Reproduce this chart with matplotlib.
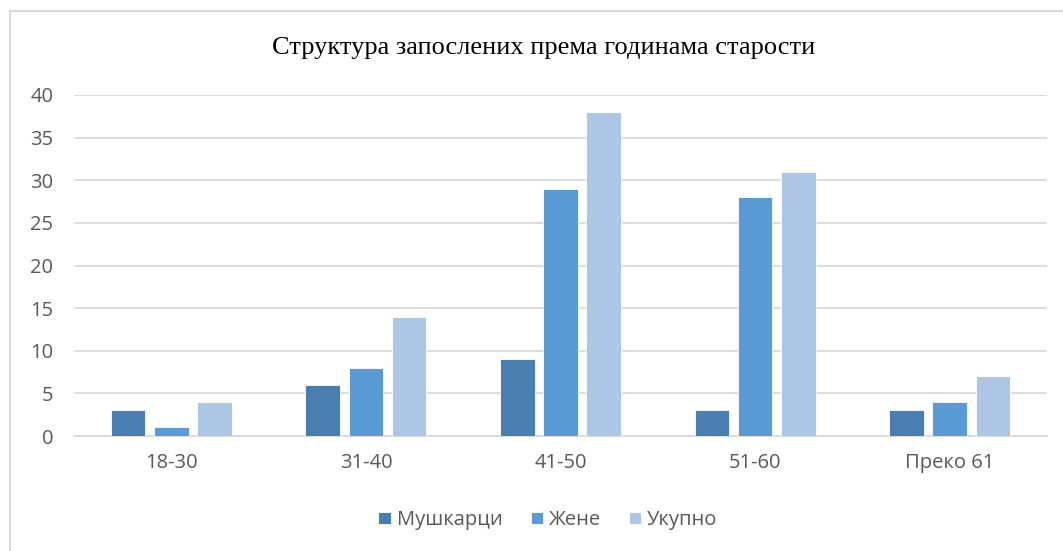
"""Bar chart: employees by age group."""

import matplotlib

matplotlib.use("Agg")
import matplotlib.pyplot as plt
from matplotlib.patches import Rectangle
import numpy as np

categories = ["18-30", "31-40", "41-50", "51-60", "Преко 61"]
men = [3, 6, 9, 3, 3]
women = [1, 8, 29, 28, 4]
total = [4, 14, 38, 31, 7]
series_names = ["Мушкарци", "Жене", "Укупно"]
y_ticks = [0, 5, 10, 15, 20, 25, 30, 35, 40]

COLORS = ("#4a7eb0", "#5b9bd5", "#adc6e6")
TEXT_GREY = "#595959"
GRID_GREY = "#d9d9d9"

W, H = 1063, 551
fig = plt.figure(figsize=(W / 100, H / 100), dpi=100)

# chart-area frame, left and top edges visible only
fig.patches.append(
    Rectangle((10 / W, -0.1), 1.2, 1 - 11 / H + 0.1, transform=fig.transFigure,
              fill=False, edgecolor="#d9d9d9", linewidth=1.5)
)

ax = fig.add_axes([74 / W, 1 - 436 / H, 973 / W, 341 / H])
x = np.arange(len(categories))
width = 0.178
pitch = 0.222
for i, (vals, name) in enumerate(zip((men, women, total), series_names)):
    ax.bar(x + (i - 1) * pitch, vals, width, color=COLORS[i], label=name,
           edgecolor="white", linewidth=0.6, zorder=3)

ax.set_xlim(-0.5, len(categories) - 0.5)
ax.set_ylim(0, 40)
ax.set_yticks(y_ticks)
ax.set_xticks(x, categories)
ax.grid(axis="y", color=GRID_GREY, linewidth=1.3, zorder=0)
for side in ("top", "right", "left"):
    ax.spines[side].set_visible(False)
ax.spines["bottom"].set_color(GRID_GREY)
ax.spines["bottom"].set_linewidth(1.3)
ax.tick_params(length=0, labelsize=14.5, colors=TEXT_GREY, labelfontfamily="Open Sans")
ax.tick_params(axis="y", pad=15)
ax.tick_params(axis="x", pad=12)

fig.text(544 / W, 1 - 48 / H, "Структура запослених према годинама старости",
         ha="center", va="center", fontsize=19, family="Liberation Serif", color="black")

leg = fig.legend(loc="center", bbox_to_anchor=(548 / W, 1 - 520 / H), ncol=3, frameon=False,
                 handlelength=0.6, handleheight=0.6, handletextpad=0.3, columnspacing=1.4,
                 prop={"family": "Open Sans", "size": 14.5})
for t in leg.get_texts():
    t.set_color(TEXT_GREY)

fig.savefig("out.png", dpi=100)
